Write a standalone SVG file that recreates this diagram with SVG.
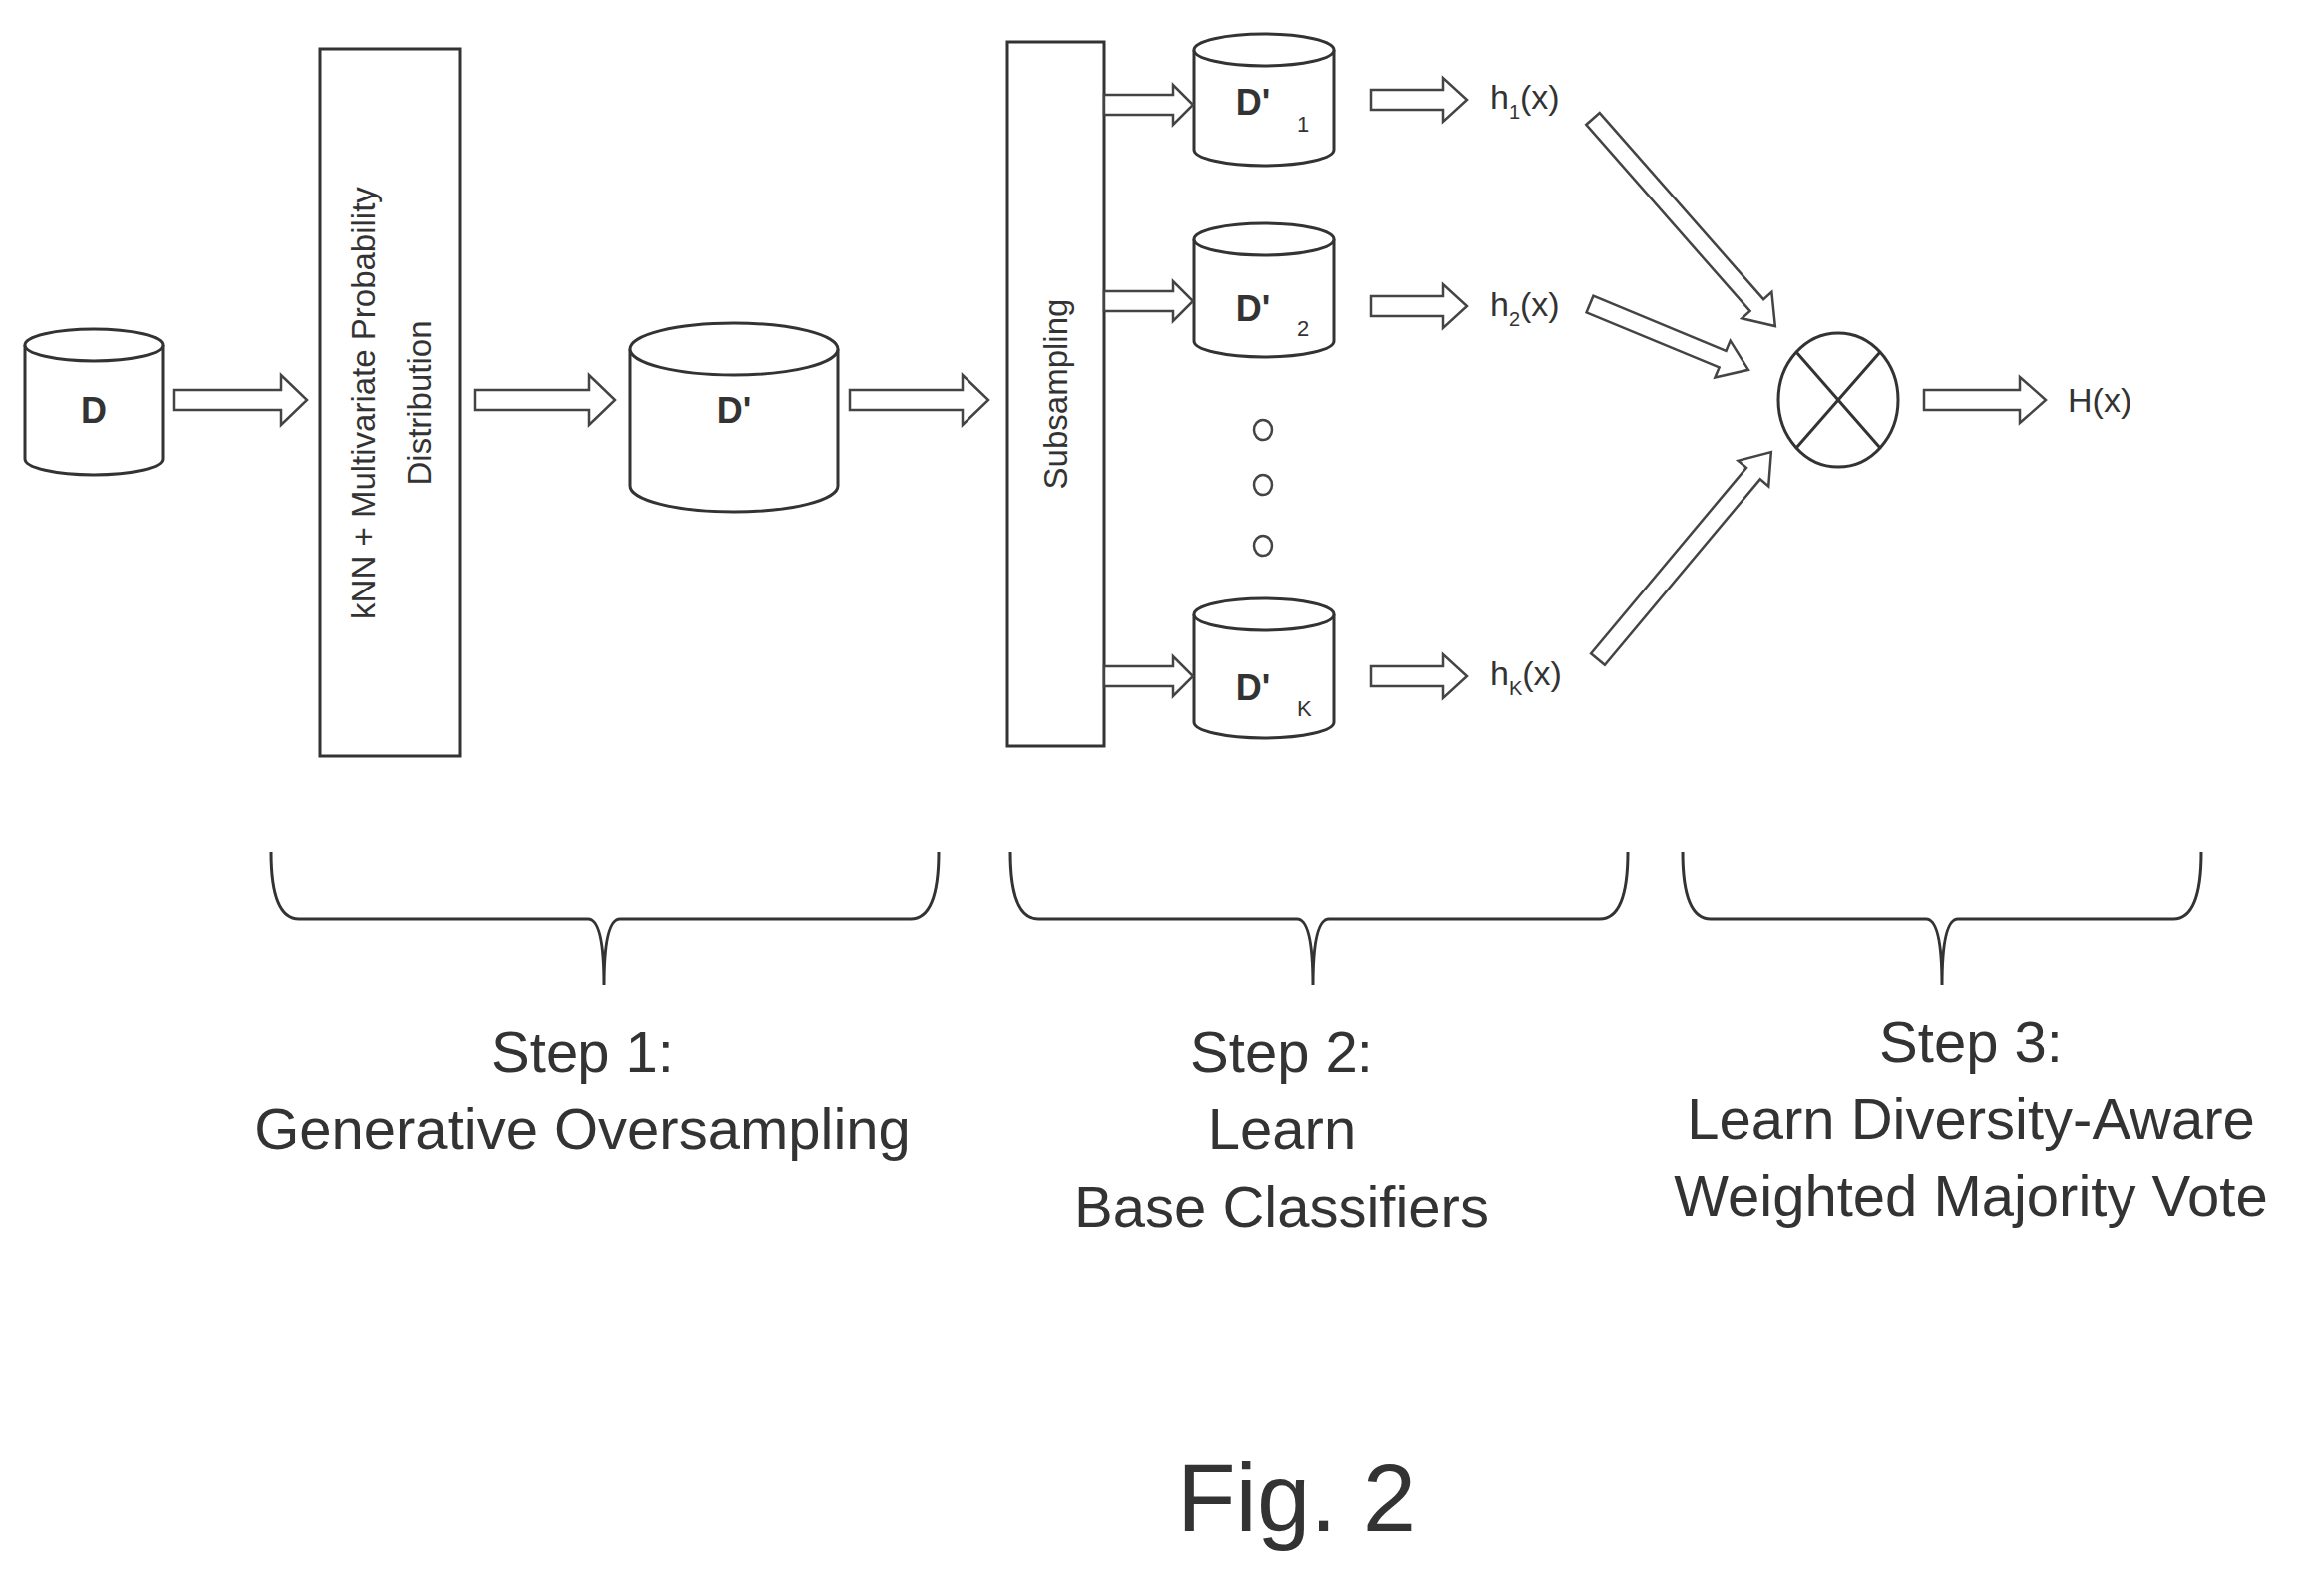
<svg xmlns="http://www.w3.org/2000/svg" width="2330" height="1578" viewBox="0 0 2330 1578">
<style>
.s{fill:#fff;stroke:#333;stroke-width:3}
.t{font-family:"Liberation Sans",Arial,sans-serif;fill:#333}
.b{font-weight:bold}
.a{fill:#fff;stroke:#444;stroke-width:2.5}
</style>
<rect width="2330" height="1578" fill="#fff"/>
<g id="D"><path class="s" d="M25,346 V460 A69,16 0 0 0 163,460 V346"/><ellipse class="s" cx="94" cy="346" rx="69" ry="16"/><text class="t b" x="94" y="424" font-size="36" text-anchor="middle">D</text></g>
<g id="knn"><rect class="s" x="321" y="49" width="140" height="709"/>
<text class="t" font-size="33" text-anchor="middle" transform="translate(376,404) rotate(-90)">kNN + Multivariate Probability</text>
<text class="t" font-size="33" text-anchor="middle" transform="translate(432,404) rotate(-90)">Distribution</text></g>
<g id="Dp"><path class="s" d="M632,350 V487 A104,26 0 0 0 840,487 V350"/><ellipse class="s" cx="736" cy="350" rx="104" ry="26"/><text class="t b" x="736" y="424" font-size="36" text-anchor="middle">D'</text></g>
<g id="sub"><rect class="s" x="1010" y="42" width="97" height="706"/><text class="t" font-size="33" text-anchor="middle" transform="translate(1070,395) rotate(-90)">Subsampling</text></g>
<g id="D1"><path class="s" d="M1197,50 V150 A70,16 0 0 0 1337,150 V50"/><ellipse class="s" cx="1267" cy="50" rx="70" ry="16"/><text class="t b" x="1256" y="115" font-size="36" text-anchor="middle">D'</text><text class="t" x="1300" y="132" font-size="22">1</text></g>
<g id="D2"><path class="s" d="M1197,240 V342 A70,16 0 0 0 1337,342 V240"/><ellipse class="s" cx="1267" cy="240" rx="70" ry="16"/><text class="t b" x="1256" y="322" font-size="36" text-anchor="middle">D'</text><text class="t" x="1300" y="337" font-size="22">2</text></g>
<g id="DK"><path class="s" d="M1197,616 V724 A70,16 0 0 0 1337,724 V616"/><ellipse class="s" cx="1267" cy="616" rx="70" ry="16"/><text class="t b" x="1256" y="702" font-size="36" text-anchor="middle">D'</text><text class="t" x="1300" y="718" font-size="22">K</text></g>
<g id="dots" fill="none" stroke="#444" stroke-width="2.5"><ellipse cx="1266" cy="431" rx="9" ry="10"/><ellipse cx="1266" cy="486" rx="9" ry="10"/><ellipse cx="1266" cy="547" rx="9" ry="10"/></g>
<g id="h" class="t" font-size="34"><text x="1494" y="109">h<tspan font-size="20" dy="10">1</tspan><tspan dy="-10">(x)</tspan></text>
<text x="1494" y="317">h<tspan font-size="20" dy="10">2</tspan><tspan dy="-10">(x)</tspan></text>
<text x="1494" y="687">h<tspan font-size="20" dy="10">K</tspan><tspan dy="-10">(x)</tspan></text>
<text x="2073" y="413">H(x)</text></g>
<g id="comb"><ellipse class="s" cx="1843" cy="401" rx="60" ry="67"/><line x1="1801" y1="353" x2="1885" y2="449" stroke="#333" stroke-width="3"/><line x1="1885" y1="353" x2="1801" y2="449" stroke="#333" stroke-width="3"/></g>
<g id="connectors">
<polygon class="a" points="174,391 282,391 282,376 308,401 282,426 282,411 174,411"/>
<polygon class="a" points="476,391 591,391 591,376 617,401 591,426 591,411 476,411"/>
<polygon class="a" points="852,391 965,391 965,376 991,401 965,426 965,411 852,411"/>
<polygon class="a" points="1107,95 1176,95 1176,85 1196,105 1176,125 1176,115 1107,115"/>
<polygon class="a" points="1107,292 1176,292 1176,282 1196,302 1176,322 1176,312 1107,312"/>
<polygon class="a" points="1107,668 1176,668 1176,658 1196,678 1176,698 1176,688 1107,688"/>
<polygon class="a" points="1375,90 1447,90 1447,78 1471,100 1447,122 1447,110 1375,110"/>
<polygon class="a" points="1375,297 1447,297 1447,285 1471,307 1447,329 1447,317 1375,317"/>
<polygon class="a" points="1375,668 1447,668 1447,656 1471,678 1447,700 1447,688 1375,688"/>
<polygon class="a" points="1929,391 2025,391 2025,378 2051,401 2025,424 2025,411 1929,411"/>
<polygon class="a" transform="translate(1597,119) rotate(48.7)" points="0,-9 249,-9 249,-20 277,0 249,20 249,9 0,9"/>
<polygon class="a" transform="translate(1594,305) rotate(22.5)" points="0,-9 144,-9 144,-20 172,0 144,20 144,9 0,9"/>
<polygon class="a" transform="translate(1602,661) rotate(-50.1)" points="0,-9 243,-9 243,-20 271,0 243,20 243,9 0,9"/>
</g>
<g id="braces" fill="none" stroke="#333" stroke-width="3">
<path d="M272,854 Q272,921 300,921 H590 Q606,921 606,988 Q606,921 622,921 H913 Q941,921 941,854"/>
<path d="M1013,854 Q1013,921 1041,921 H1300 Q1316,921 1316,988 Q1316,921 1332,921 H1604 Q1632,921 1632,854"/>
<path d="M1687,854 Q1687,921 1715,921 H1931 Q1947,921 1947,988 Q1947,921 1963,921 H2179 Q2207,921 2207,854"/>
</g>
<g id="labels" class="t" font-size="58" text-anchor="middle">
<text x="584" y="1075">Step 1:</text><text x="584" y="1152">Generative Oversampling</text>
<text x="1285" y="1075">Step 2:</text><text x="1285" y="1152">Learn</text><text x="1285" y="1230">Base Classifiers</text>
<text x="1976" y="1065">Step 3:</text><text x="1976" y="1142">Learn Diversity-Aware</text><text x="1976" y="1219">Weighted Majority Vote</text>
<text x="1300" y="1535" font-size="96">Fig. 2</text>
</g>
</svg>
